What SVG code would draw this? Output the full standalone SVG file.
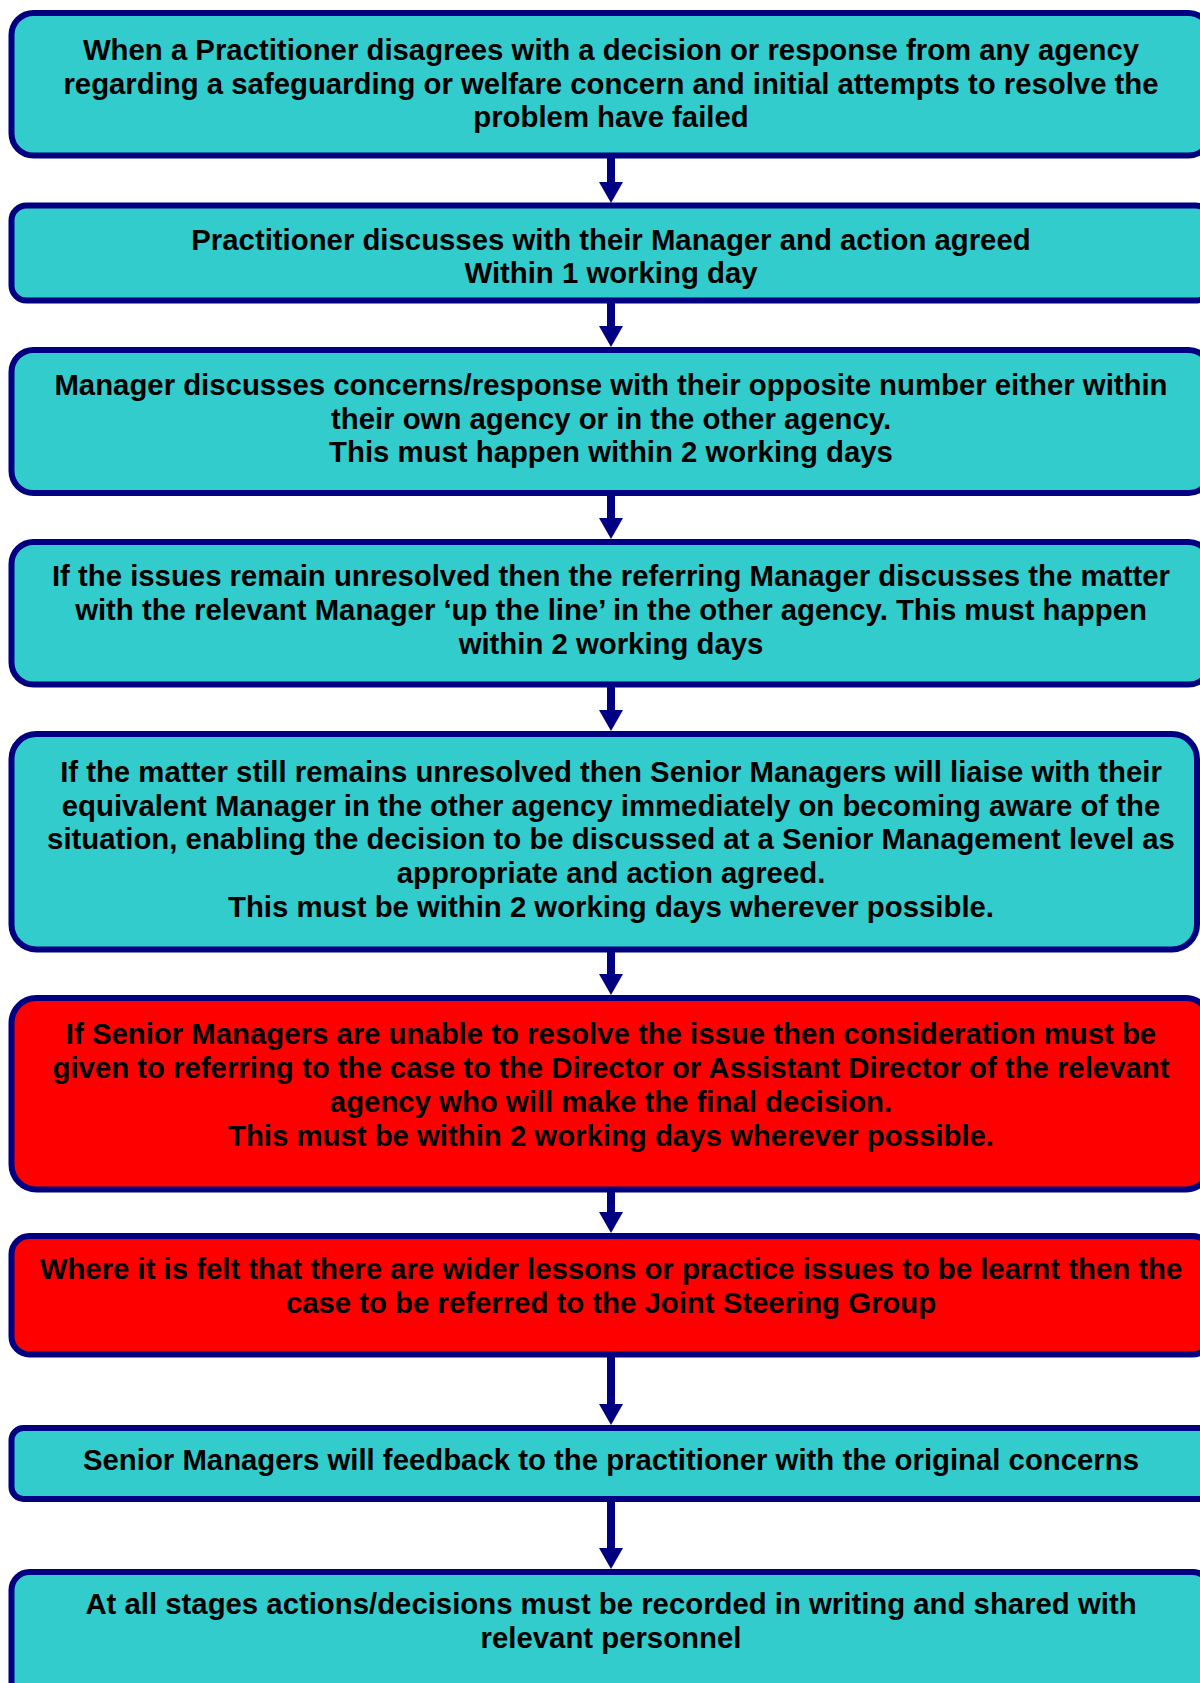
<svg xmlns="http://www.w3.org/2000/svg" width="1200" height="1683" viewBox="0 0 1200 1683">
<style>
.box{stroke:#000080;stroke-width:6}
.cyan{fill:#33CCCC}
.red{fill:#FF0000}
text{font-family:"Liberation Sans",Arial,sans-serif;font-weight:bold;font-size:29.33px;fill:#000;text-anchor:middle}
.shaft{stroke:#000080;stroke-width:8;fill:none}
.head{fill:#000080}
</style>
<rect width="1200" height="1683" fill="#fff"/>
<g id="connectors">
<line class="shaft" x1="611" y1="158" x2="611" y2="184"/><polygon class="head" points="599,182 623,182 611,203"/>
<line class="shaft" x1="611" y1="303" x2="611" y2="328"/><polygon class="head" points="599,326 623,326 611,347"/>
<line class="shaft" x1="611" y1="496" x2="611" y2="520"/><polygon class="head" points="599,518 623,518 611,539"/>
<line class="shaft" x1="611" y1="687" x2="611" y2="712"/><polygon class="head" points="599,710 623,710 611,731"/>
<line class="shaft" x1="611" y1="952" x2="611" y2="976"/><polygon class="head" points="599,974 623,974 611,995"/>
<line class="shaft" x1="611" y1="1192" x2="611" y2="1214"/><polygon class="head" points="599,1212 623,1212 611,1233"/>
<line class="shaft" x1="611" y1="1357" x2="611" y2="1406"/><polygon class="head" points="599,1404 623,1404 611,1425"/>
<line class="shaft" x1="611" y1="1502" x2="611" y2="1550"/><polygon class="head" points="599,1548 623,1548 611,1569"/>
</g>
<g id="node1">
<rect class="box cyan" x="11.5" y="13" width="1199" height="142.5" rx="22"/>
<text x="611" y="60">When a Practitioner disagrees with a decision or response from any agency</text>
<text x="611" y="93.5">regarding a safeguarding or welfare concern and initial attempts to resolve the</text>
<text x="611" y="127">problem have failed</text>
</g>
<g id="node2">
<rect class="box cyan" x="11.5" y="205.5" width="1199" height="95" rx="15"/>
<text x="611" y="249.5">Practitioner discusses with their Manager and action agreed</text>
<text x="611" y="282.5">Within 1 working day</text>
</g>
<g id="node3">
<rect class="box cyan" x="11.5" y="350" width="1199" height="143" rx="22"/>
<text x="611" y="395">Manager discusses concerns/response with their opposite number either within</text>
<text x="611" y="428.7">their own agency or in the other agency.</text>
<text x="611" y="462.4">This must happen within 2 working days</text>
</g>
<g id="node4">
<rect class="box cyan" x="11.5" y="542" width="1199" height="142.5" rx="22"/>
<text x="611" y="586">If the issues remain unresolved then the referring Manager discusses the matter</text>
<text x="611" y="619.8">with the relevant Manager ‘up the line’ in the other agency. This must happen</text>
<text x="611" y="653.5">within 2 working days</text>
</g>
<g id="node5">
<rect class="box cyan" x="11.5" y="734" width="1185.5" height="215.5" rx="25"/>
<text x="611" y="781.7">If the matter still remains unresolved then Senior Managers will liaise with their</text>
<text x="611" y="815.5">equivalent Manager in the other agency immediately on becoming aware of the</text>
<text x="611" y="849.3">situation, enabling the decision to be discussed at a Senior Management level as</text>
<text x="611" y="883.1">appropriate and action agreed.</text>
<text x="611" y="916.9">This must be within 2 working days wherever possible.</text>
</g>
<g id="node6">
<rect class="box red" x="11.5" y="998" width="1199" height="191.5" rx="25"/>
<text x="611" y="1044.3">If Senior Managers are unable to resolve the issue then consideration must be</text>
<text x="611" y="1078">given to referring to the case to the Director or Assistant Director of the relevant</text>
<text x="611" y="1111.8">agency who will make the final decision.</text>
<text x="611" y="1145.6">This must be within 2 working days wherever possible.</text>
</g>
<g id="node7">
<rect class="box red" x="11.5" y="1236" width="1199" height="118.5" rx="18"/>
<text x="611" y="1278.5">Where it is felt that there are wider lessons or practice issues to be learnt then the</text>
<text x="611" y="1312.5">case to be referred to the Joint Steering Group</text>
</g>
<g id="node8">
<rect class="box cyan" x="11.5" y="1428" width="1199" height="71" rx="12"/>
<text x="611" y="1470">Senior Managers will feedback to the practitioner with the original concerns</text>
</g>
<g id="node9">
<rect class="box cyan" x="11.5" y="1572" width="1199" height="140" rx="18"/>
<text x="611" y="1614">At all stages actions/decisions must be recorded in writing and shared with</text>
<text x="611" y="1647.7">relevant personnel</text>
</g>
</svg>
